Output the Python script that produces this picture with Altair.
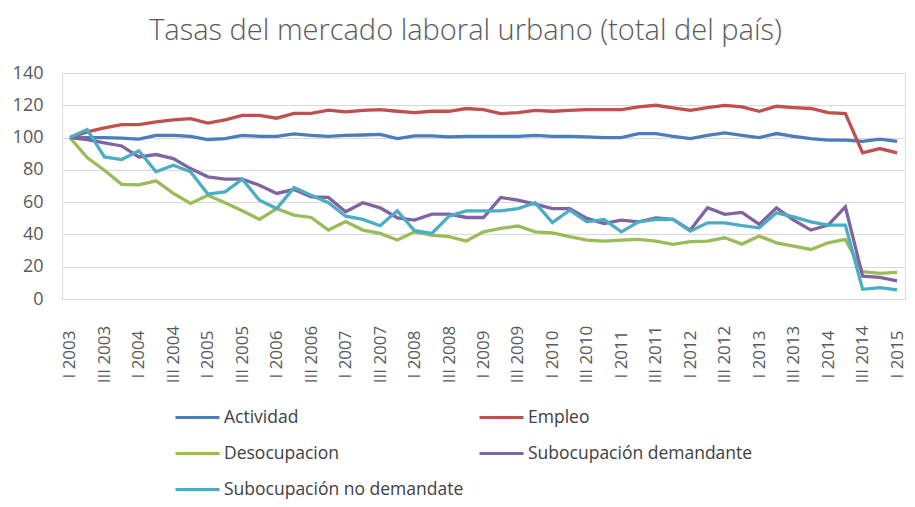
import altair as alt
import pandas as pd

years = list(range(2003, 2016))
roman = ["I", "II", "III", "IV"]
quarters = [f"{r} {y}" for y in years for r in roman][:49]

actividad = [100, 100, 100, 99.6, 99, 101.4, 101.4, 100.8, 98.8, 99.4,
             101.4, 100.8, 100.8, 102.3, 101.4, 100.8, 101.4, 101.6, 102, 99.4,
             101, 101, 100.4, 100.8, 100.8, 100.8, 100.8, 101.4, 100.8, 100.8,
             100.4, 100, 100, 102.5, 102.5, 100.8, 99.4, 101.4, 102.9, 101.4,
             100, 102.5, 100.8, 99.4, 98.4, 98.4, 97.7, 99, 97.7]
empleo = [100, 103.5, 106, 108, 108, 109.7, 111, 111.7, 109, 111,
          113.8, 113.8, 112, 115, 115, 117, 115.9, 116.9, 117.3, 116.3,
          115.5, 116.3, 116.3, 118, 117.3, 114.8, 115.5, 116.9, 116.3, 116.9,
          117.3, 117.3, 117.3, 119, 120, 118.4, 116.9, 118.6, 120, 119,
          116.3, 119.4, 118.6, 118, 115.5, 114.8, 90.5, 93.2, 90.5]
desocupacion = [100, 87.6, 79.8, 71, 70.7, 73.2, 65.4, 59.2, 64.3, 59.6,
                54.6, 49.3, 56, 52, 50.5, 42.7, 48, 42.7, 40.6, 36.5,
                41.6, 39.6, 38.6, 35.9, 41.6, 43.7, 45.2, 41.6, 41, 38.6,
                36.5, 35.9, 36.5, 36.9, 35.9, 33.8, 35.5, 35.9, 37.9, 34,
                39, 34.8, 32.8, 30.7, 34.8, 36.9, 16.9, 15.9, 16.5]
sub_dem = [100, 98.8, 96.7, 94.8, 88, 89.5, 87, 80.8, 75.7, 74.2,
           74.2, 70.5, 65.4, 67.8, 63.3, 62.9, 54, 59.6, 56.5, 50.3,
           48.9, 52.6, 52.6, 50.5, 50.5, 62.9, 61.2, 58.8, 56, 56,
           49.9, 46.8, 48.9, 47.8, 50.3, 49.3, 42.7, 56.5, 52.4, 53.6,
           46.2, 56.5, 48.9, 42.7, 45.8, 57.1, 14.2, 13.4, 11.3]
sub_nodem = [100, 105, 88, 86.4, 91.8, 78.8, 82.9, 78.8, 65, 66.4,
             74.2, 61.2, 56, 69, 64.3, 59.6, 51.3, 49.3, 45.4, 54.6,
             42.3, 40.6, 51.3, 54.6, 54.6, 54.6, 56, 59.6, 47.4, 55,
             47.8, 49.3, 41.6, 47.8, 49.3, 49.3, 42, 47.2, 47.2, 45.4,
             44.1, 53.4, 50.9, 47.8, 45.8, 45.8, 6, 7, 5.6]

series_names = ["Actividad", "Empleo", "Desocupacion",
                "Subocupación demandante", "Subocupación no demandate"]
series_values = [actividad, empleo, desocupacion, sub_dem, sub_nodem]
colors = ["#4A7EBB", "#C0504D", "#9BBB59", "#8064A2", "#4BACC6"]
y_ticks = [0, 20, 40, 60, 80, 100, 120, 140]
x_ticks = [q for q in quarters if q.split()[0] in ("I", "III")]

rows = []
for name, vals in zip(series_names, series_values):
    for i, (q, v) in enumerate(zip(quarters, vals)):
        rows.append({"serie": name, "trimestre": q, "idx": i, "valor": v})
df = pd.DataFrame(rows)

font = "Open Sans"
gray = "#595959"

chart = alt.Chart(df).mark_line(strokeWidth=3.3).encode(
    x=alt.X("trimestre:N", sort=quarters,
            scale=alt.Scale(type="point", padding=0.46),
            axis=alt.Axis(title=None, values=x_ticks, labelAngle=270,
                          labelAlign="center", labelBaseline="middle",
                          labelPadding=55, ticks=False, tickSize=0,
                          domain=True, domainColor="#D9D9D9", grid=False,
                          labelFont=font, labelFontSize=17, labelColor=gray)),
    y=alt.Y("valor:Q", scale=alt.Scale(domain=[0, 140], nice=False),
            axis=alt.Axis(title=None, values=y_ticks, ticks=False, tickSize=0,
                          domain=False, gridColor="#D9D9D9", gridWidth=1,
                          labelPadding=19, labelFont=font, labelFontSize=18,
                          labelColor=gray)),
    color=alt.Color("serie:N",
                    scale=alt.Scale(domain=series_names, range=colors),
                    legend=alt.Legend(title=None, orient="none", legendX=112,
                                      legendY=321, columns=2, direction="horizontal",
                                      symbolType="stroke",
                                      symbolSize=1936, symbolStrokeWidth=3,
                                      labelFont=font, labelFontSize=17.5,
                                      labelColor="#404040", labelLimit=400,
                                      labelOffset=3, columnPadding=9,
                                      rowPadding=4, padding=0)),
    order=alt.Order("idx:Q"),
).properties(
    width=843, height=226,
    autosize=alt.AutoSizeParams(type="none"),
    padding={"left": 54, "top": 65, "right": 2, "bottom": 200},
    title=alt.TitleParams("Tasas del mercado laboral urbano (total del país)",
                          font=font, fontSize=29, fontWeight=300, color=gray,
                          anchor="middle", frame="group", dx=-18, offset=18),
).configure_view(stroke=None).configure(background="white")

chart.save("out.html", embed_options={"renderer": "svg", "actions": False})
